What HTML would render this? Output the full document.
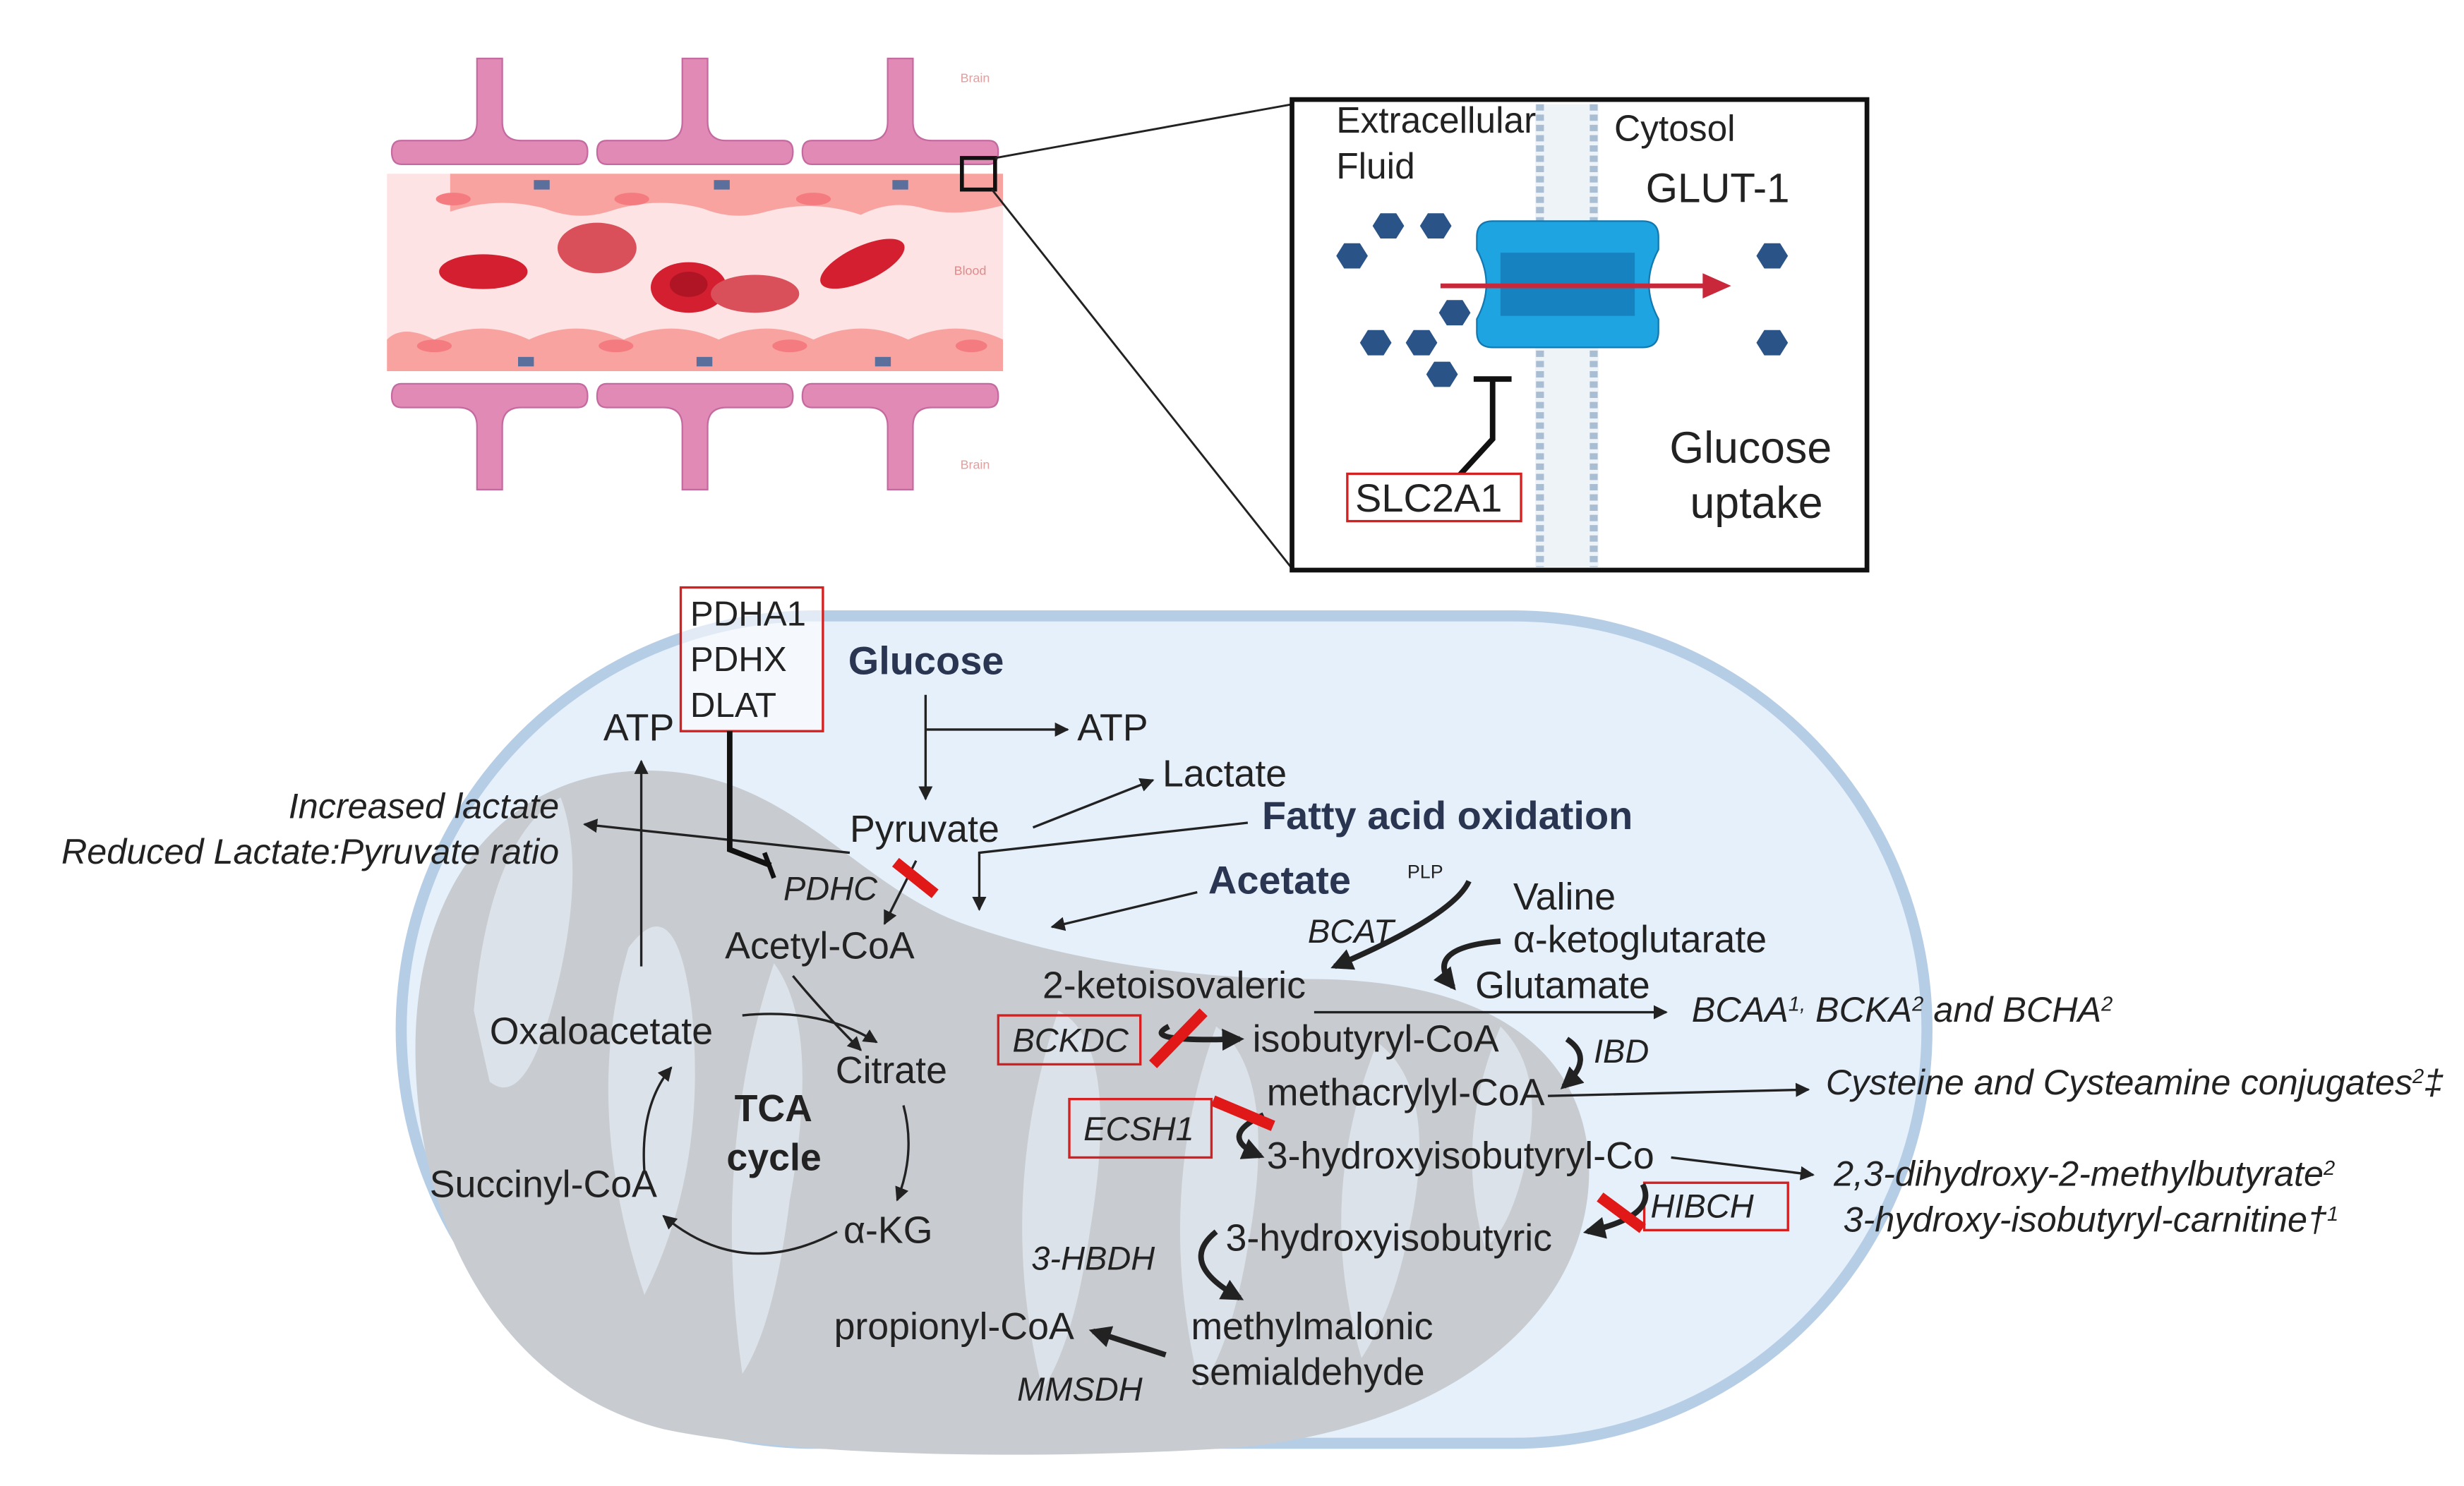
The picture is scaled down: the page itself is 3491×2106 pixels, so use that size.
<!DOCTYPE html>
<html><head><meta charset="utf-8"><style>
html,body{margin:0;padding:0;background:#fff;width:3491px;height:2106px;overflow:hidden}
svg{display:block}
text{font-family:"Liberation Sans","DejaVu Sans",sans-serif;fill:#222}
.n{font-size:24px}
.i{font-size:22.5px;font-style:italic}
.e{font-size:21px;font-style:italic}
.b{font-size:25px;font-weight:bold;fill:#2a3552}
</style></head><body>
<svg width="3491" height="2106" viewBox="0 0 1560 941" xmlns="http://www.w3.org/2000/svg">
<defs>
<marker id="a" viewBox="0 0 10 10" refX="9" refY="5" markerWidth="6" markerHeight="6" orient="auto"><path d="M0,0L10,5L0,10z" fill="#222"/></marker>
<marker id="b" viewBox="0 0 10 10" refX="8" refY="5" markerWidth="4" markerHeight="4" orient="auto"><path d="M0,0L10,5L0,10z" fill="#222"/></marker>
</defs>
<!-- Blood vessel -->
<g fill="#e08ab5" stroke="#c56aa0" stroke-width="1">
<path d="M302,37h16v40q0,12 12,12h36q6,0 6,7v0q0,8-6,8h-112q-6,0-6-8v0q0-7 6-7h36q12,0 12-12z"/>
<path d="M432,37h16v40q0,12 12,12h36q6,0 6,7v0q0,8-6,8h-112q-6,0-6-8v0q0-7 6-7h36q12,0 12-12z"/>
<path d="M562,37h16v40q0,12 12,12h36q6,0 6,7v0q0,8-6,8h-112q-6,0-6-8v0q0-7 6-7h36q12,0 12-12z"/>
<path d="M302,310h16v-40q0-12 12-12h36q6,0 6-7v0q0-8-6-8h-112q-6,0-6,8v0q0,7 6,7h36q12,0 12,12z"/>
<path d="M432,310h16v-40q0-12 12-12h36q6,0 6-7v0q0-8-6-8h-112q-6,0-6,8v0q0,7 6,7h36q12,0 12,12z"/>
<path d="M562,310h16v-40q0-12 12-12h36q6,0 6-7v0q0-8-6-8h-112q-6,0-6,8v0q0,7 6,7h36q12,0 12,12z"/>
</g>
<rect x="245" y="110" width="390" height="125" fill="#fde3e4"/>
<path d="M245,110h390v20q-30,8-50,2q-20,-6-40,4q-30,-10-60,-2q-20,6-40-2q-30,-8-60,2q-20,6-40-2q-30,-8-60,2v-24z" fill="#f8a3a0"/>
<path d="M245,235h390v-20q-30,-14-60,0q-30,-14-60,0q-30,-14-60,0q-30,-14-60,0q-30,-14-60,0q-30,-14-60,0q-20,-10-30,0z" fill="#f8a3a0"/>
<g fill="#f47c80"><ellipse cx="287" cy="126" rx="11" ry="4"/><ellipse cx="400" cy="126" rx="11" ry="4"/><ellipse cx="515" cy="126" rx="11" ry="4"/><ellipse cx="275" cy="219" rx="11" ry="4"/><ellipse cx="390" cy="219" rx="11" ry="4"/><ellipse cx="500" cy="219" rx="11" ry="4"/><ellipse cx="615" cy="219" rx="10" ry="4"/></g>
<g fill="#5b6f9c"><rect x="338" y="114" width="10" height="6"/><rect x="452" y="114" width="10" height="6"/><rect x="565" y="114" width="10" height="6"/><rect x="328" y="226" width="10" height="6"/><rect x="441" y="226" width="10" height="6"/><rect x="554" y="226" width="10" height="6"/></g>
<g fill="#d41f30"><ellipse cx="306" cy="172" rx="28" ry="11"/><ellipse cx="378" cy="157" rx="25" ry="16" fill="#d9505a"/><ellipse cx="436" cy="182" rx="24" ry="16"/><ellipse cx="478" cy="186" rx="28" ry="12" fill="#d9505a"/><ellipse cx="546" cy="167" rx="29" ry="11" transform="rotate(-25 546 167)"/></g>
<ellipse cx="436" cy="180" rx="12" ry="8" fill="#b01525"/>
<text x="608" y="52" font-size="8" style="fill:#e0a0a0">Brain</text>
<text x="604" y="174" font-size="8" style="fill:#e08a8a">Blood</text>
<text x="608" y="297" font-size="8" style="fill:#e0a0a0">Brain</text>
<rect x="609" y="100" width="21" height="20" fill="none" stroke="#111" stroke-width="2.5"/>
<line x1="630" y1="100" x2="818" y2="66" stroke="#222" stroke-width="1.3"/>
<line x1="628" y1="120" x2="818" y2="360" stroke="#222" stroke-width="1.3"/>
<!-- Inset -->
<rect x="818" y="63" width="364" height="298" fill="#fff" stroke="#111" stroke-width="3"/>
<rect x="972" y="66" width="40" height="293" fill="#eef3f8"/>
<g stroke="#a9bdd3" stroke-width="5" stroke-dasharray="4 2.5"><line x1="975" y1="66" x2="975" y2="359"/><line x1="1009" y1="66" x2="1009" y2="359"/></g>
<path d="M945,140h95q10,0 10,10v8q-12,22 0,44v8q0,10-10,10h-95q-10,0-10-10v-8q12-22 0-44v-8q0-10 10-10z" fill="#1ea4e0" stroke="#1378b0"/>
<rect x="950" y="160" width="85" height="40" fill="#1683c0"/>
<line x1="912" y1="181" x2="1082" y2="181" stroke="#c8283a" stroke-width="3"/>
<path d="M1078,173l18,8l-18,8z" fill="#c8283a"/>
<g fill="#2a5488">
<polygon points="846,162 851,154 861,154 866,162 861,170 851,170"/>
<polygon points="869,143 874,135 884,135 889,143 884,151 874,151"/>
<polygon points="899,143 904,135 914,135 919,143 914,151 904,151"/>
<polygon points="911,198 916,190 926,190 931,198 926,206 916,206"/>
<polygon points="861,217 866,209 876,209 881,217 876,225 866,225"/>
<polygon points="890,217 895,209 905,209 910,217 905,225 895,225"/>
<polygon points="903,237 908,229 918,229 923,237 918,245 908,245"/>
<polygon points="1112,162 1117,154 1127,154 1132,162 1127,170 1117,170"/>
<polygon points="1112,217 1117,209 1127,209 1132,217 1127,225 1117,225"/>
</g>
<path d="M945,240v38l-22,24" fill="none" stroke="#111" stroke-width="3.5"/>
<line x1="933" y1="240" x2="957" y2="240" stroke="#111" stroke-width="3.5"/>
<text x="846" y="84" font-size="23">Extracellular</text>
<text x="846" y="113" font-size="23">Fluid</text>
<text x="1022" y="89" font-size="23">Cytosol</text>
<text x="1042" y="128" font-size="26">GLUT-1</text>
<text x="1057" y="293" font-size="28">Glucose</text>
<text x="1070" y="328" font-size="28">uptake</text>
<rect x="853" y="300" width="110" height="30" fill="#fff" stroke="#d42020" stroke-width="1.5"/>
<text x="858" y="324" font-size="25">SLC2A1</text>
<!-- Mitochondrion -->
<rect x="254" y="390" width="966" height="524" rx="262" fill="#e6f0fa" stroke="#b6cde6" stroke-width="7"/>
<path d="M263,664 C263,560 320,488 410,488 C500,488 540,560 610,585 C680,610 760,620 830,620 C920,620 1000,650 1006,735 C1010,830 920,905 780,917 C650,925 500,922 420,905 C320,880 263,780 263,664z" fill="#c8ccd1"/>
<g fill="#dce2e9">
<path d="M300,640 q10,-110 55,-135 q15,40 0,110 q-20,90 -45,70z"/>
<path d="M408,820 q-40,-120 -10,-220 q30,-40 40,40 q10,100 -30,180z"/>
<path d="M470,870 q-20,-140 20,-260 q30,40 10,150 q-10,80 -30,110z"/>
<path d="M660,880 q-30,-120 10,-240 q40,20 20,140 q-10,70 -30,100z"/>
<path d="M760,880 q-30,-120 10,-230 q40,30 20,140 q-10,60 -30,90z"/>
<path d="M862,860 q-30,-100 10,-200 q40,30 20,120 q-10,50 -30,80z"/>
<path d="M940,790 q-20,-70 10,-140 q30,30 15,90 q-10,40 -25,50z"/>
</g>
<!-- Labels -->
<rect x="431" y="372" width="90" height="91" fill="#fff" fill-opacity="0.6" stroke="#d42020" stroke-width="1.5"/>
<text font-size="22"><tspan x="437" y="396">PDHA1</tspan><tspan x="437" y="425">PDHX</tspan><tspan x="437" y="454">DLAT</tspan></text>
<text x="537" y="427" class="b">Glucose</text>
<text x="382" y="469" class="n">ATP</text>
<text x="682" y="469" class="n">ATP</text>
<text x="736" y="498" class="n">Lactate</text>
<text x="538" y="533" class="n">Pyruvate</text>
<text x="799" y="525" class="b">Fatty acid oxidation</text>
<text x="765" y="566" class="b">Acetate</text>
<text x="354" y="518" class="i" text-anchor="end">Increased lactate</text>
<text x="354" y="547" class="i" text-anchor="end">Reduced Lactate:Pyruvate ratio</text>
<text x="496" y="570" class="e">PDHC</text>
<text x="459" y="607" class="n">Acetyl-CoA</text>
<text x="891" y="556" font-size="12">PLP</text>
<text x="958" y="576" class="n">Valine</text>
<text x="828" y="597" class="e">BCAT</text>
<text x="958" y="603" class="n">α-ketoglutarate</text>
<text x="660" y="632" class="n">2-ketoisovaleric</text>
<text x="934" y="632" class="n">Glutamate</text>
<text x="1071" y="647" class="i">BCAA<tspan font-size="13" dy="-7">1,</tspan><tspan dy="7"> BCKA</tspan><tspan font-size="13" dy="-7">2</tspan><tspan dy="7"> and BCHA</tspan><tspan font-size="13" dy="-7">2</tspan></text>
<text x="310" y="661" class="n">Oxaloacetate</text>
<rect x="632" y="643" width="90" height="31" fill="none" stroke="#d42020" stroke-width="1.5"/>
<text x="641" y="666" class="e">BCKDC</text>
<text x="793" y="666" class="n">isobutyryl-CoA</text>
<text x="1009" y="673" class="e">IBD</text>
<text x="529" y="686" class="n">Citrate</text>
<text x="802" y="700" class="n">methacrylyl-CoA</text>
<text x="1156" y="693" class="i">Cysteine and Cysteamine conjugates<tspan font-size="13" dy="-7">2</tspan><tspan dy="7">‡</tspan></text>
<text x="465" y="710" font-size="24" font-weight="bold">TCA</text>
<text x="460" y="741" font-size="24" font-weight="bold">cycle</text>
<rect x="677" y="696" width="90" height="37" fill="none" stroke="#d42020" stroke-width="1.5"/>
<text x="686" y="722" class="e">ECSH1</text>
<text x="802" y="740" class="n">3-hydroxyisobutyryl-Co</text>
<text x="1161" y="751" class="i">2,3-dihydroxy-2-methylbutyrate<tspan font-size="13" dy="-7">2</tspan></text>
<text x="272" y="758" class="n">Succinyl-CoA</text>
<rect x="1041" y="749" width="91" height="30" fill="none" stroke="#d42020" stroke-width="1.5"/>
<text x="1045" y="771" class="e">HIBCH</text>
<text x="1167" y="780" class="i">3-hydroxy-isobutyryl-carnitine†<tspan font-size="13" dy="-7">1</tspan></text>
<text x="534" y="787" class="n">α-KG</text>
<text x="776" y="792" class="n">3-hydroxyisobutyric</text>
<text x="653" y="804" class="e">3-HBDH</text>
<text x="528" y="848" class="n">propionyl-CoA</text>
<text x="754" y="848" class="n">methylmalonic</text>
<text x="754" y="877" class="n">semialdehyde</text>
<text x="644" y="887" class="e">MMSDH</text>
<!-- thin arrows -->
<g stroke="#222" stroke-width="1.5" fill="none" marker-end="url(#a)">
<line x1="586" y1="440" x2="586" y2="506"/>
<line x1="586" y1="462" x2="676" y2="462"/>
<line x1="406" y1="612" x2="406" y2="482"/>
<line x1="654" y1="524" x2="730" y2="494"/>
<line x1="538" y1="540" x2="370" y2="522"/>
<path d="M790,521 L620,540 L620,576"/>
<line x1="758" y1="565" x2="666" y2="587"/>
<line x1="580" y1="545" x2="560" y2="585"/>
<path d="M502,618 Q520,640 545,665"/>
<path d="M572,700 Q580,730 568,760"/>
<path d="M530,780 Q470,812 420,770"/>
<path d="M408,742 Q405,700 425,676"/>
<path d="M470,643 Q520,638 555,660"/>
<line x1="832" y1="641" x2="1055" y2="641"/>
<line x1="980" y1="694" x2="1145" y2="690"/>
<line x1="1058" y1="733" x2="1148" y2="744"/>
</g>
<!-- inhibition -->
<path d="M462,463 V538 L488,548" fill="none" stroke="#111" stroke-width="3.5"/>
<line x1="484" y1="540" x2="490" y2="556" stroke="#111" stroke-width="3"/>
<!-- thick arrows -->
<g stroke="#222" stroke-width="3.5" fill="none" marker-end="url(#b)">
<path d="M930,558 Q920,580 845,612"/>
<path d="M950,596 Q900,600 920,625"/>
<path d="M740,650 Q720,660 785,658"/>
<path d="M992,658 Q1010,670 990,688"/>
<path d="M800,706 Q770,720 798,732"/>
<path d="M1040,750 Q1050,770 1005,780"/>
<path d="M770,780 Q745,800 785,822"/>
<path d="M738,858 L692,843"/>
</g>
<!-- red blocks -->
<g stroke="#e01818" stroke-width="7">
<line x1="567" y1="546" x2="592" y2="566"/>
<line x1="730" y1="674" x2="762" y2="641"/>
<line x1="768" y1="697" x2="806" y2="713"/>
<line x1="1013" y1="758" x2="1040" y2="778"/>
</g>
</svg>
</body></html>
